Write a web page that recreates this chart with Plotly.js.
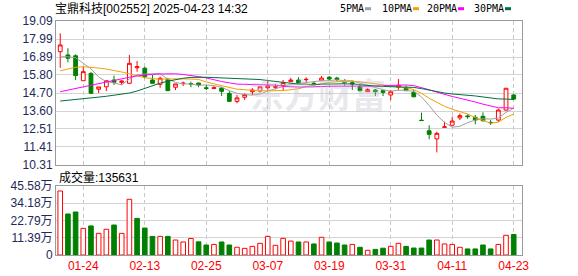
<!DOCTYPE html>
<html><head><meta charset="utf-8">
<script src="https://cdn.plot.ly/plotly-3.0.1.min.js"></script>
<style>html,body{margin:0;padding:0;background:#fff;}#chart{width:578px;height:276px;}</style>
</head><body><div id="chart"></div>
<script>
// ---- data ----
const titleText = '宝鼎科技[002552] 2025-04-23 14:32';
const dates = ['01-21','01-22','01-23','01-24','01-27','02-05','02-06','02-07','02-10','02-11',
  '02-12','02-13','02-14','02-17','02-18','02-19','02-20','02-21','02-24','02-25',
  '02-26','02-27','02-28','03-03','03-04','03-05','03-06','03-07','03-10','03-11',
  '03-12','03-13','03-14','03-17','03-18','03-19','03-20','03-21','03-24','03-25',
  '03-26','03-27','03-28','03-31','04-01','04-02','04-03','04-07','04-08','04-09',
  '04-10','04-11','04-14','04-15','04-16','04-17','04-18','04-21','04-22','04-23'];
const tickDates = ['01-24','02-13','02-25','03-07','03-19','03-31','04-11','04-23'];
const open = [17.22,17.02,16.97,15.45,15.90,14.93,15.08,15.49,15.35,15.29,
  16.24,16.21,15.49,15.23,15.53,15.05,15.27,15.27,15.31,15.02,
  14.98,15.00,14.68,14.19,14.44,14.78,14.82,15.02,15.05,15.14,
  15.39,15.49,15.51,15.29,15.45,15.66,15.61,15.33,15.33,15.08,
  14.78,14.88,14.84,14.58,15.05,14.99,14.74,13.04,12.40,11.90,
  12.61,12.73,13.18,13.30,13.22,13.28,12.91,13.05,13.66,14.58];
const high = [18.34,17.43,17.06,16.29,15.96,15.07,15.45,15.76,15.47,17.02,
  16.65,16.30,15.80,15.70,15.63,15.25,15.39,15.39,15.31,15.19,
  15.11,15.07,14.82,14.58,14.68,14.99,15.08,15.45,15.25,15.49,
  15.63,15.66,15.66,15.43,15.74,15.74,15.69,15.55,15.45,15.19,
  14.99,14.93,14.88,14.88,15.55,15.14,14.88,13.50,12.73,12.34,
  12.95,13.25,13.46,13.40,13.36,13.52,13.05,13.74,14.99,14.64];
const low = [16.24,16.57,15.49,15.45,14.64,14.69,14.82,15.19,15.19,15.29,
  16.00,15.59,15.29,15.02,14.84,14.88,15.13,15.05,15.05,14.88,
  14.93,14.52,14.17,14.07,14.27,14.58,14.72,14.84,14.93,14.88,
  15.37,15.25,15.33,15.14,15.43,15.45,15.39,15.14,14.88,14.78,
  14.76,14.52,14.52,14.27,14.88,14.84,14.44,13.02,11.88,11.08,
  12.61,12.73,13.05,13.13,12.79,12.95,12.75,12.95,13.62,14.27];
const close = [17.63,16.82,15.76,16.00,14.68,15.07,15.45,15.35,15.43,16.51,
  16.30,15.70,15.29,15.60,14.84,15.25,15.30,15.25,15.19,14.98,
  15.02,14.80,14.19,14.40,14.60,14.88,15.08,15.14,15.09,15.33,
  15.49,15.33,15.53,15.27,15.61,15.55,15.53,15.31,15.25,14.84,
  14.90,14.78,14.74,14.78,15.17,14.84,14.47,13.02,12.18,12.24,
  12.63,12.99,13.32,13.26,13.05,13.01,12.89,13.66,14.99,14.33];
const ma5 = [16.91,16.91,16.85,16.51,16.18,15.67,15.39,15.31,15.20,15.56,
  15.81,15.86,15.85,15.88,15.55,15.34,15.26,15.25,15.17,15.19,
  15.15,15.05,14.84,14.68,14.60,14.57,14.63,14.82,14.96,15.10,
  15.23,15.28,15.35,15.39,15.45,15.46,15.50,15.45,15.45,15.30,
  15.17,15.02,14.90,14.81,14.87,14.86,14.80,14.46,13.94,13.35,
  12.91,12.61,12.67,12.89,13.05,13.13,13.11,13.17,13.52,13.78];
const ma10 = [16.05,16.18,16.27,16.30,16.28,16.22,16.16,16.08,15.98,15.87,
  15.74,15.63,15.58,15.54,15.56,15.58,15.56,15.55,15.53,15.37,
  15.25,15.16,15.05,14.93,14.90,14.86,14.84,14.83,14.82,14.85,
  14.90,14.96,15.09,15.18,15.28,15.35,15.39,15.40,15.42,15.38,
  15.32,15.26,15.18,15.13,15.09,15.02,14.91,14.68,14.38,14.11,
  13.89,13.71,13.57,13.42,13.20,13.02,12.86,12.92,13.21,13.42];
const ma20 = [14.78,14.88,14.99,15.08,15.19,15.29,15.40,15.50,15.58,15.66,
  15.74,15.80,15.84,15.86,15.88,15.87,15.83,15.78,15.70,15.62,
  15.50,15.40,15.32,15.24,15.23,15.22,15.20,15.19,15.18,15.11,
  15.08,15.06,15.07,15.06,15.09,15.11,15.12,15.12,15.12,15.12,
  15.11,15.11,15.14,15.16,15.19,15.19,15.15,15.04,14.90,14.75,
  14.61,14.49,14.38,14.28,14.15,14.02,13.89,13.80,13.80,13.77];
const ma30 = [14.21,14.25,14.30,14.35,14.40,14.45,14.50,14.56,14.62,14.70,
  14.82,14.98,15.15,15.30,15.42,15.52,15.60,15.65,15.67,15.66,
  15.64,15.62,15.60,15.59,15.58,15.56,15.52,15.46,15.40,15.36,
  15.29,15.24,15.24,15.21,15.24,15.26,15.26,15.26,15.25,15.20,
  15.15,15.12,15.10,15.08,15.09,15.07,15.04,14.97,14.87,14.78,
  14.70,14.64,14.61,14.57,14.52,14.46,14.38,14.34,14.33,14.30];
const volume = [423000,271000,284000,176000,192000,143000,170000,198000,143000,368000,
  242000,178000,123000,123000,123000,99000,86000,109000,87000,66000,
  70000,86000,66000,51000,44000,57000,77000,123000,64000,110000,
  92000,86000,86000,73000,117000,86000,79000,66000,70000,51000,
  31000,37000,45000,57000,77000,57000,46000,46000,99000,99000,
  73000,70000,51000,40000,40000,66000,40000,70000,130000,135631];
const volUp = [1,0,0,1,0,1,1,0,1,1, 0,0,0,1,0,1,1,1,0,0,
  1,0,0,1,1,1,1,1,1,1, 1,0,1,0,1,0,0,0,1,0, 1,0,0,1,1,0,0,0,0,1,
  1,1,1,0,0,0,0,1,1,0];
const priceTicks = [10.31,11.41,12.51,13.60,14.70,15.80,16.89,17.99,19.09];
const volTicks = [0,113900,227900,341800,455800];
const maNames = ['5PMA','10PMA','20PMA','30PMA'];
const maColors = ['#a0a0a0','#f2a100','#ff00ff','#00703a'];

// ---- build ----
const idx = dates.map((d,i)=>i);
const tickIdx = tickDates.map(d=>dates.indexOf(d));
const RED='#ff0000', GREEN='#008000';
const axFont = {family:'Liberation Sans, Arial, sans-serif', size:12, color:'#1e2a5a'};

const traces = [];
traces.push({type:'candlestick', x:idx, open:open, high:high, low:low, close:close,
  xaxis:'x', yaxis:'y', whiskerwidth:0,
  increasing:{line:{color:RED,width:1}, fillcolor:'#ffffff'},
  decreasing:{line:{color:GREEN,width:1}, fillcolor:GREEN}, hoverinfo:'skip'});
[ma5,ma10,ma20,ma30].forEach((m,k)=>{
  traces.push({type:'scatter', mode:'lines', x:idx, y:m, xaxis:'x', yaxis:'y',
    line:{color:maColors[k], width:1}, hoverinfo:'skip'});
});
traces.push({type:'bar', x:idx, y:volume, xaxis:'x2', yaxis:'y2', width:0.6,
  marker:{color:volUp.map(u=>u?'#ffffff':GREEN), line:{color:volUp.map(u=>u?RED:GREEN), width:1}},
  hoverinfo:'skip'});

const W=578, L=56, R=522, T=21, B=255;
const px = v => (v-L)/(R-L);
const py = v => (B-v)/(B-T);
const xr = [-0.55, 60.08];

const annotations = [];
const shapes = [];
const legX = [338,380,425,472], legM = [365,413,458,505];
maNames.forEach((n,k)=>{
  annotations.push({xref:'paper', yref:'paper', x:px(legX[k]), y:py(8.5), xanchor:'left', yanchor:'middle',
    text:n, showarrow:false, font:{family:'DejaVu Sans Mono, monospace', size:10, color:'#000'}});
  shapes.push({type:'rect', xref:'paper', yref:'paper', x0:px(legM[k]), x1:px(legM[k]+6),
    y0:py(10.2), y1:py(7.2), fillcolor:maColors[k], line:{width:0}});
});
annotations.push({xref:'paper', yref:'paper', x:px(57), y:py(177), xanchor:'left', yanchor:'middle',
  text:'成交量:'+volume[volume.length-1], showarrow:false,
  font:{family:'Liberation Sans, Noto Sans CJK SC, sans-serif', size:12, color:'#000'}});
annotations.push({xref:'paper', yref:'paper', x:px(318), y:py(93), xanchor:'center', yanchor:'middle',
  text:'<b>东方财富</b>', showarrow:false,
  font:{family:'Noto Sans CJK SC, sans-serif', size:34, color:'rgba(190,190,205,0.35)'}});

const layout = {
  width:W, height:276, margin:{l:L, r:W-R, t:T, b:276-B, pad:0},
  paper_bgcolor:'#fff', plot_bgcolor:'#fff', showlegend:false, boxgap:0.3,
  title:{text:titleText, x:55/W, xanchor:'left', xref:'container', y:1-8.5/276, yanchor:'middle', yref:'container',
    font:{family:'Liberation Sans, Noto Sans CJK SC, sans-serif', size:12, color:'#000'}},
  xaxis:{domain:[0,1], range:xr, anchor:'y', tickvals:tickIdx, showticklabels:false, ticks:'',
    showgrid:true, gridcolor:'#c8c8c8', griddash:'4px,3px', gridwidth:1, zeroline:false,
    showline:true, mirror:true, linecolor:'#9a9a9a', linewidth:1, rangeslider:{visible:false}, fixedrange:true},
  yaxis:{domain:[py(165),1], range:[priceTicks[0], priceTicks[priceTicks.length-1]], anchor:'x',
    tickvals:priceTicks, ticktext:priceTicks.map(v=>v.toFixed(2)), tickfont:axFont, ticks:'',
    showgrid:true, gridcolor:'#d4d4d4', zeroline:false, showline:true, mirror:true, linecolor:'#9a9a9a', fixedrange:true},
  xaxis2:{domain:[0,1], range:xr, anchor:'y2', tickvals:tickIdx, ticktext:tickDates, ticks:'',
    tickfont:{family:'Liberation Sans, Arial, sans-serif', size:12, color:RED},
    showgrid:true, gridcolor:'#c8c8c8', griddash:'4px,3px', zeroline:false,
    showline:true, mirror:true, linecolor:'#9a9a9a', fixedrange:true},
  yaxis2:{domain:[0,py(186)], range:[0, volTicks[volTicks.length-1]], anchor:'x2',
    tickvals:volTicks, ticktext:volTicks.map(v=>v===0?'0':(v/10000).toFixed(2)+'万'),
    tickfont:{family:'Liberation Sans, Noto Sans CJK SC, sans-serif', size:12, color:'#1e2a5a'}, ticks:'',
    showgrid:true, gridcolor:'#d4d4d4', zeroline:false, showline:true, mirror:true, linecolor:'#9a9a9a', fixedrange:true},
  annotations:annotations, shapes:shapes
};
Plotly.newPlot('chart', traces, layout, {staticPlot:true, displayModeBar:false});
</script></body></html>
